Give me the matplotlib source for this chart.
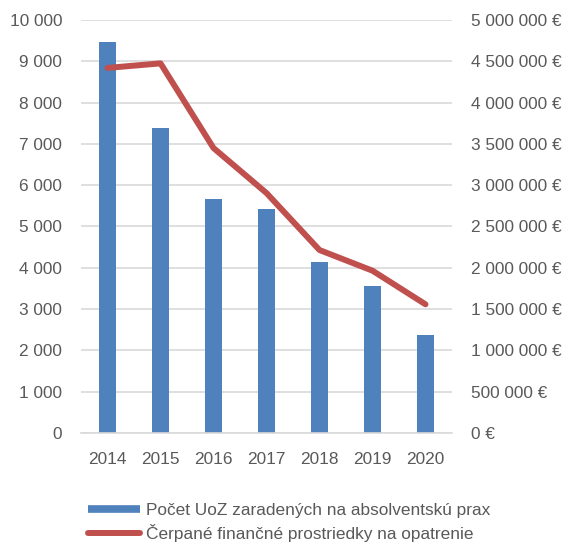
import matplotlib
matplotlib.use("Agg")
import matplotlib.pyplot as plt
from matplotlib.lines import Line2D
from matplotlib.ticker import FuncFormatter

years = ["2014", "2015", "2016", "2017", "2018", "2019", "2020"]
uoz_count = [9470, 7390, 5670, 5420, 4130, 3560, 2380]
funds_eur = [4420000, 4475000, 3450000, 2905000, 2215000, 1965000, 1558000]
left_ticks = [0, 1000, 2000, 3000, 4000, 5000, 6000, 7000, 8000, 9000, 10000]
right_ticks = [0, 500000, 1000000, 1500000, 2000000, 2500000, 3000000, 3500000, 4000000, 4500000, 5000000]
label_bars = "Počet UoZ zaradených na absolventskú prax"
label_line = "Čerpané finančné prostriedky na opatrenie"

plt.rcParams['font.family'] = ['Liberation Sans', 'DejaVu Sans']
TXT = '#595959'
BLUE = '#4F81BD'
RED = '#C0504D'
FS = 12.4

fig = plt.figure(figsize=(5.65, 5.6), dpi=100)
ax = fig.add_axes([81/565, 127/560, (452-81)/565, (433-20)/560])
x = list(range(len(years)))
ax.bar(x, uoz_count, width=0.32, color=BLUE, zorder=2)
ax.set_xlim(-0.5, len(years) - 0.5)
ax.set_ylim(0, 10000)
ax.set_yticks(left_ticks)
ax.yaxis.set_major_formatter(FuncFormatter(lambda v, p: f"{int(v):,}".replace(",", " ")))
ax.set_xticks(x)
ax.set_xticklabels(years)
ax.grid(axis='y', color='#D9D9D9', linewidth=1.2, zorder=0)
ax.set_axisbelow(True)
for s in ['top', 'right', 'left']:
    ax.spines[s].set_visible(False)
ax.spines['bottom'].set_color('#D9D9D9')
ax.spines['bottom'].set_linewidth(1.2)
ax.tick_params(axis='both', length=0, labelsize=FS, colors=TXT)
ax.tick_params(axis='y', pad=13.5)
ax.tick_params(axis='x', pad=14)

ax2 = ax.twinx()
ax2.plot(x, funds_eur, color=RED, linewidth=4.3, solid_capstyle='round', solid_joinstyle='round', zorder=3)
ax2.set_ylim(0, 5000000)
ax2.set_yticks(right_ticks)
ax2.yaxis.set_major_formatter(FuncFormatter(lambda v, p: f"{int(v):,}".replace(",", " ") + " €"))
for s in ['top', 'right', 'left', 'bottom']:
    ax2.spines[s].set_visible(False)
ax2.tick_params(axis='y', length=0, labelsize=FS, colors=TXT, pad=13.5)

handles = [Line2D([0], [0], color=BLUE, linewidth=5.5, solid_capstyle='butt'),
           Line2D([0], [0], color=RED, linewidth=4.3, solid_capstyle='round')]
leg = fig.legend(handles, [label_bars, label_line], loc='upper left',
                 bbox_to_anchor=(88/565, 1 - 503/560), frameon=False,
                 fontsize=FS, handlelength=3.0, handletextpad=0.34,
                 labelspacing=0.35, borderpad=0, borderaxespad=0)
for t in leg.get_texts():
    t.set_color(TXT)

fig.savefig("out.png", dpi=100)
